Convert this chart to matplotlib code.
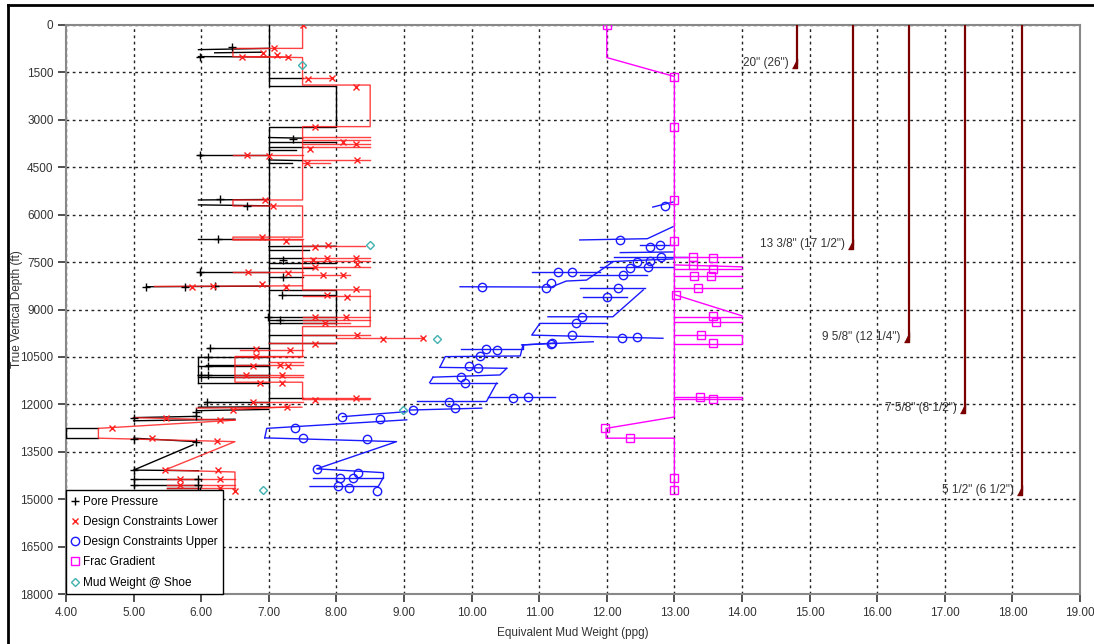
import matplotlib
matplotlib.use("Agg")
import matplotlib.pyplot as plt
from matplotlib.lines import Line2D

plt.rcParams['font.family'] = ['Liberation Sans', 'DejaVu Sans']

# ---- data (x = ppg, d = depth ft) ----
pore_lines = [
    [(7.0, 0), (7.0, 1930), (8.0, 1930), (8.0, 3215), (7.0, 3215), (7.0, 12080)],
    [(5.96, 780), (7.0, 740)], [(6.2, 880), (6.9, 860)], [(5.96, 1000), (7.0, 1010)],
    [(7.0, 1690), (7.5, 1690)],
    [(7.0, 3560), (7.5, 3580)], [(7.0, 3700), (8.0, 3700)], [(7.0, 3850), (7.5, 3850)],
    [(7.0, 3950), (7.4, 3950)], [(5.96, 4110), (7.0, 4110)], [(7.0, 4270), (7.5, 4290)],
    [(7.0, 4370), (7.35, 4370)], [(5.96, 5535), (7.0, 5520)], [(5.96, 5690), (7.0, 5720)],
    [(5.96, 6780), (7.0, 6780)], [(7.0, 7010), (8.0, 7000)], [(7.0, 7120), (7.6, 7120)],
    [(7.0, 7380), (7.5, 7380)], [(7.0, 7530), (8.0, 7530)], [(7.0, 7680), (7.7, 7680)],
    [(5.96, 7800), (7.0, 7800)], [(7.0, 7960), (7.5, 7960)], [(5.19, 8280), (7.0, 8260)],
    [(7.0, 8380), (8.0, 8380), (8.0, 9430), (7.0, 9430)], [(7.19, 8540), (8.0, 8540)],
    [(7.0, 9230), (8.0, 9230)], [(7.0, 9330), (8.0, 9330)],
    [(7.0, 9800), (8.0, 9800)], [(7.0, 10070), (8.0, 10070)], [(6.1, 10230), (7.0, 10230)],
    [(5.96, 10490), (7.0, 10490)], [(5.96, 10490), (5.96, 11340)],
    [(6.07, 10750), (7.0, 10750)], [(5.96, 10800), (7.0, 10800)], [(5.96, 11070), (7.0, 11070)],
    [(5.96, 11120), (7.0, 11120)], [(5.96, 11340), (7.0, 11340)], [(7.0, 11810), (7.5, 11810)],
    [(6.06, 11910), (7.0, 11910)], [(5.96, 12090), (7.0, 12080)], [(5.93, 12200), (7.0, 12160)],
    [(5.0, 12420), (5.93, 12380)], [(5.0, 12520), (6.5, 12470)],
    [(4.48, 12760), (4.0, 12760), (4.0, 13070), (4.48, 13070)],
    [(5.0, 13070), (5.93, 13180)], [(5.88, 13280), (5.0, 14080), (5.96, 14100)],
    [(5.0, 14370), (5.96, 14370)], [(5.0, 14550), (5.96, 14550)],
    [(5.5, 14660), (5.96, 14660), (5.96, 14760)],
]
pore_marks = [(6.45, 690), (5.98, 1000), (7.36, 3620), (5.98, 4110), (6.28, 5520), (6.68, 5720),
              (6.25, 6780), (7.21, 7430), (5.99, 7800), (7.21, 7960), (5.19, 8280), (5.76, 8290),
              (6.2, 8260), (7.19, 8540), (6.99, 9230), (7.17, 9330), (6.13, 10230), (6.1, 10490),
              (6.1, 10800), (6.0, 11070), (6.1, 11070), (6.08, 11910), (5.93, 12230), (5.0, 12440),
              (5.93, 12380), (5.0, 13090), (5.93, 13180), (5.0, 14080), (5.0, 14370), (5.96, 14370),
              (5.0, 14550), (5.96, 14550), (5.98, 14730)]

lower_lines = [
    [(7.5, 0), (7.5, 740), (6.47, 740), (6.47, 1000), (7.5, 1030), (7.5, 1900), (8.5, 1900),
     (8.5, 3215), (7.5, 3215), (7.5, 5535), (6.47, 5535), (6.47, 5725), (7.5, 5725), (7.5, 6710),
     (6.47, 6710), (6.47, 6800), (7.5, 6800), (7.5, 8380), (8.5, 8380), (8.5, 9540), (7.5, 9540),
     (7.5, 10500), (6.5, 10500), (6.5, 11300), (7.5, 11300), (7.5, 11850), (8.5, 11850)],
    [(6.6, 1000), (7.29, 1010)], [(7.5, 1690), (7.94, 1690)],
    [(7.5, 3540), (8.5, 3540)], [(7.5, 3640), (8.5, 3640)], [(7.5, 3760), (8.5, 3760)],
    [(7.5, 3860), (8.5, 3860)], [(6.47, 4110), (7.5, 4110)], [(7.5, 4270), (8.5, 4270)],
    [(7.5, 4370), (7.9, 4370)], [(6.47, 6780), (7.5, 6780)], [(7.5, 6990), (8.43, 6990)],
    [(7.5, 7380), (8.5, 7380)], [(7.5, 7480), (8.5, 7480)], [(7.5, 7645), (8.5, 7645)],
    [(6.47, 7800), (7.5, 7800)], [(7.5, 7900), (8.2, 7900)], [(5.31, 8270), (7.5, 8250)],
    [(7.5, 8570), (8.5, 8570)], [(7.5, 9230), (8.5, 9230)], [(7.5, 9330), (8.5, 9330)],
    [(7.5, 9440), (8.2, 9440)], [(7.5, 9800), (8.5, 9800)], [(8.0, 9910), (9.25, 9910)],
    [(7.0, 10070), (7.98, 10070)], [(6.57, 10280), (7.5, 10280)], [(6.5, 10470), (7.5, 10470)],
    [(6.5, 10750), (7.5, 10750)], [(7.0, 10650), (7.5, 10650)], [(6.5, 11070), (7.5, 11070)],
    [(6.5, 11120), (7.5, 11120)], [(7.5, 11810), (8.5, 11810)], [(6.77, 11910), (7.5, 11910)],
    [(6.47, 12160), (7.27, 12080)], [(5.93, 12120), (7.49, 12090)], [(5.0, 12420), (6.5, 12500)],
    [(6.5, 12500), (4.48, 12760), (4.48, 13070), (6.5, 13180), (5.46, 14080), (6.5, 14140),
     (6.5, 14730)],
    [(5.5, 14370), (6.5, 14370)], [(5.5, 14550), (6.5, 14550)], [(5.5, 14660), (6.5, 14660)],
]
lower_marks = [(7.5, 0), (7.07, 740), (6.6, 1000), (6.92, 900), (7.12, 950), (7.29, 1000),
               (7.58, 1720), (7.94, 1690), (8.29, 1950), (7.68, 3215), (8.1, 3700), (8.29, 3760),
               (7.61, 3920), (6.68, 4110), (7.0, 4130), (7.56, 4350), (8.3, 4270), (6.94, 5535),
               (7.06, 5725), (6.9, 6720), (7.26, 6830), (7.68, 7010), (7.87, 6960), (7.66, 7420),
               (7.86, 7380), (8.29, 7380), (7.68, 7650), (8.3, 7560), (7.8, 7900), (8.1, 7900),
               (6.7, 7800), (7.29, 7840), (5.87, 8290), (6.17, 8270), (6.9, 8190), (7.25, 8290),
               (8.29, 8350), (7.86, 8540), (8.15, 8590), (7.68, 9230), (8.14, 9250), (7.83, 9440),
               (8.3, 9800), (8.69, 9940), (9.28, 9910), (7.68, 10090), (6.81, 10260), (7.31, 10280),
               (6.81, 10470), (6.77, 10780), (7.17, 10750), (7.29, 10790), (6.67, 11070),
               (7.19, 11070), (6.87, 11340), (7.2, 11340), (7.68, 11860), (8.29, 11790),
               (6.77, 11910), (6.47, 12180), (7.27, 12090), (5.48, 12440), (6.28, 12500),
               (4.68, 12760), (5.28, 13070), (6.24, 13150), (5.47, 14080), (6.25, 14080),
               (5.69, 14370), (6.28, 14370), (5.69, 14550), (6.28, 14660), (6.5, 14730)]

upper_lines = [
    [(12.68, 5760), (12.98, 5600)], [(11.6, 6800), (12.6, 6760), (12.98, 6380)],
    [(12.49, 6960), (12.98, 6960)], [(12.2, 7200), (12.98, 7180)], [(12.1, 7330), (13.18, 7330)],
    [(12.0, 7490), (12.98, 7400)], [(11.9, 7650), (12.98, 7650)], [(10.89, 7800), (11.9, 7800)],
    [(9.83, 8280), (11.18, 8290), (11.4, 8100), (11.7, 8070), (12.09, 7490)],
    [(11.6, 7910), (12.59, 7910)], [(11.6, 8330), (12.57, 8330)], [(11.65, 8590), (12.3, 8590)],
    [(12.54, 8380), (12.09, 9230), (11.13, 9230)],
    [(12.0, 9440), (11.01, 9440), (10.89, 9810), (11.85, 9860), (12.83, 9910)],
    [(10.74, 10120), (11.8, 10020)], [(10.76, 10120), (11.23, 10060)],
    [(9.85, 10260), (10.76, 10260), (10.76, 10120)],
    [(9.53, 10830), (9.61, 10490), (10.72, 10470), (10.76, 10120)],
    [(9.53, 10830), (10.52, 10860)], [(9.43, 11140), (10.42, 11070), (10.52, 10860)],
    [(9.38, 11310), (9.43, 11140)], [(9.38, 11310), (10.37, 11310)],
    [(10.37, 11330), (10.22, 11910), (9.2, 11910)], [(10.24, 11770), (11.23, 11770)],
    [(9.09, 12180), (10.15, 12120)], [(8.09, 12390), (9.04, 12230)],
    [(6.94, 13060), (6.97, 12760), (9.04, 12490)],
    [(6.94, 13060), (8.89, 13180), (7.71, 14040), (8.69, 14160)],
    [(7.65, 14330), (8.69, 14330), (8.69, 14160)], [(7.61, 14600), (8.62, 14600), (8.69, 14330)],
]
upper_marks = [(12.86, 5720), (12.2, 6800), (12.64, 7030), (12.79, 6960), (12.8, 7330),
               (12.64, 7460), (12.45, 7490), (12.34, 7700), (12.61, 7650), (12.24, 7910),
               (11.28, 7800), (11.48, 7820), (12.16, 8330), (10.15, 8300), (11.1, 8330),
               (11.18, 8170), (12.0, 8590), (11.63, 9230), (11.54, 9440), (11.48, 9810),
               (12.22, 9910), (12.45, 9880), (10.21, 10250), (10.37, 10270), (11.19, 10060),
               (11.18, 10090), (10.12, 10470), (9.96, 10800), (10.1, 10860), (9.85, 11140),
               (9.9, 11310), (9.66, 11910), (10.61, 11800), (10.83, 11770), (9.13, 12180),
               (9.75, 12110), (8.09, 12390), (8.64, 12470), (7.39, 12760), (7.5, 13060),
               (8.45, 13110), (7.71, 14040), (8.32, 14160), (8.05, 14330), (8.25, 14330),
               (8.02, 14570), (8.19, 14650), (8.6, 14730)]

frac_lines = [
    [(12.0, 0), (12.0, 1030), (13.0, 1630), (13.0, 12400), (11.99, 12760), (11.99, 13070),
     (13.0, 13070), (13.0, 14760)],
    [(13.0, 7350), (14.0, 7350)], [(13.0, 7590), (14.0, 7650)], [(13.0, 7730), (14.0, 7730)],
    [(13.0, 7930), (14.0, 7930)], [(13.0, 8330), (14.0, 8330)], [(13.02, 8540), (14.0, 9200)],
    [(13.0, 9230), (14.0, 9230)], [(13.0, 9380), (14.0, 9380)],
    [(13.0, 9810), (14.0, 9810), (14.0, 10100), (13.0, 10100)],
    [(13.0, 11780), (14.0, 11780)], [(13.0, 11840), (14.0, 11840)],
]
frac_marks = [(12.0, 0), (13.0, 1650), (13.0, 3230), (13.0, 5540), (13.0, 6830), (13.28, 7330),
              (13.57, 7380), (13.28, 7590), (13.57, 7730), (13.29, 7930), (13.54, 7930),
              (13.35, 8330), (13.02, 8540), (13.57, 9200), (13.62, 9400), (13.39, 9810),
              (13.57, 10070), (13.38, 11780), (13.57, 11830), (11.98, 12760), (12.35, 13070),
              (13.0, 14330), (13.0, 14710)]

mud_x = [7.49, 8.5, 9.49, 8.98, 6.91]
mud_d = [1265, 6960, 9930, 12180, 14710]

casing_x = [14.81, 15.64, 16.47, 17.3, 18.14]
casing_d = [1200, 6930, 9870, 12110, 14710]
casing_labels = ['20" (26")', '13 3/8" (17 1/2")', '9 5/8" (12 1/4")',
                 '7 5/8" (8 1/2")', '5 1/2" (6 1/2")']

fig = plt.figure(figsize=(10.94, 6.44), dpi=100)
ax = fig.add_axes([0.0603, 0.0776, 0.9269, 0.8836])


def draw(lines, marks, color, marker, ms, lw=1.0, alpha=1.0, label=None):
    for seg in lines:
        xs, ds = zip(*seg)
        ax.plot(xs, ds, color=color, lw=lw, alpha=alpha, zorder=3)
    mx, md = zip(*marks)
    ax.plot(mx, md, ls='none', marker=marker, ms=ms, mfc='none', mec=color,
            mew=1.0, zorder=4, label=label)


draw(pore_lines, pore_marks, 'black', '+', 6, label='Pore Pressure')
draw(lower_lines, lower_marks, '#ff2020', 'x', 5, alpha=0.85, label='Design Constraints Lower')
draw(upper_lines, upper_marks, '#1a1aff', 'o', 6, label='Design Constraints Upper')
draw(frac_lines, frac_marks, '#ff00ff', 's', 6, label='Frac Gradient')
ax.plot(mud_x, mud_d, ls='none', marker='D', ms=4, mfc='none', mec='#40b0b0', mew=1.0,
        zorder=5, label='Mud Weight @ Shoe')

# casing shoes
shoe = [(-1, -1), (0, -1), (0, 1)]
for cx, cd, lab in zip(casing_x, casing_d, casing_labels):
    ax.plot([cx, cx], [0, cd], color='#7a0000', lw=1.6, zorder=3)
    ax.plot([cx], [cd], ls='none', marker=shoe, ms=7, color='#7a0000', zorder=3)
    ax.text(cx - 0.12, cd, lab, ha='right', va='center', fontsize=8.5, color='#333333')

ax.set_xlim(4, 19)
ax.set_ylim(18000, 0)
ax.set_xticks([4 + i for i in range(16)])
ax.set_xticklabels(['%.2f' % (4 + i) for i in range(16)])
ax.set_yticks([i * 1500 for i in range(13)])
ax.tick_params(labelsize=8.5, colors='#333333', direction='out', length=6, width=1.2, pad=3)
ax.grid(True, color='#222222', ls=(0, (2, 2.5)), lw=1.0, zorder=1)
for s in ax.spines.values():
    s.set_color('#888888')
    s.set_linewidth(1.5)

ax.set_xlabel('Equivalent Mud Weight (ppg)', fontsize=8.5, color='#333333', labelpad=6)
ax.set_ylabel('True Vertical Depth (ft)', fontsize=8.5, color='#333333')
ax.yaxis.set_label_coords(-0.0425, 0.5)

leg = ax.legend(loc='lower left', bbox_to_anchor=(0, 0), borderaxespad=0, fontsize=8.5,
                frameon=True, fancybox=False, handlelength=0.6, handletextpad=0.4,
                labelspacing=0.7, borderpad=0.45)
leg.get_frame().set_edgecolor('black')
leg.get_frame().set_linewidth(1.0)
leg.get_frame().set_alpha(1)
leg.set_zorder(10)

# outer black frame (top and left)
fig.add_artist(Line2D([8 / 1094, 1], [1 - 5 / 644, 1 - 5 / 644], color='black', lw=2,
                      transform=fig.transFigure))
fig.add_artist(Line2D([8 / 1094, 8 / 1094], [0, 1 - 5 / 644], color='black', lw=2,
                      transform=fig.transFigure))

fig.savefig('out.png', dpi=100)
